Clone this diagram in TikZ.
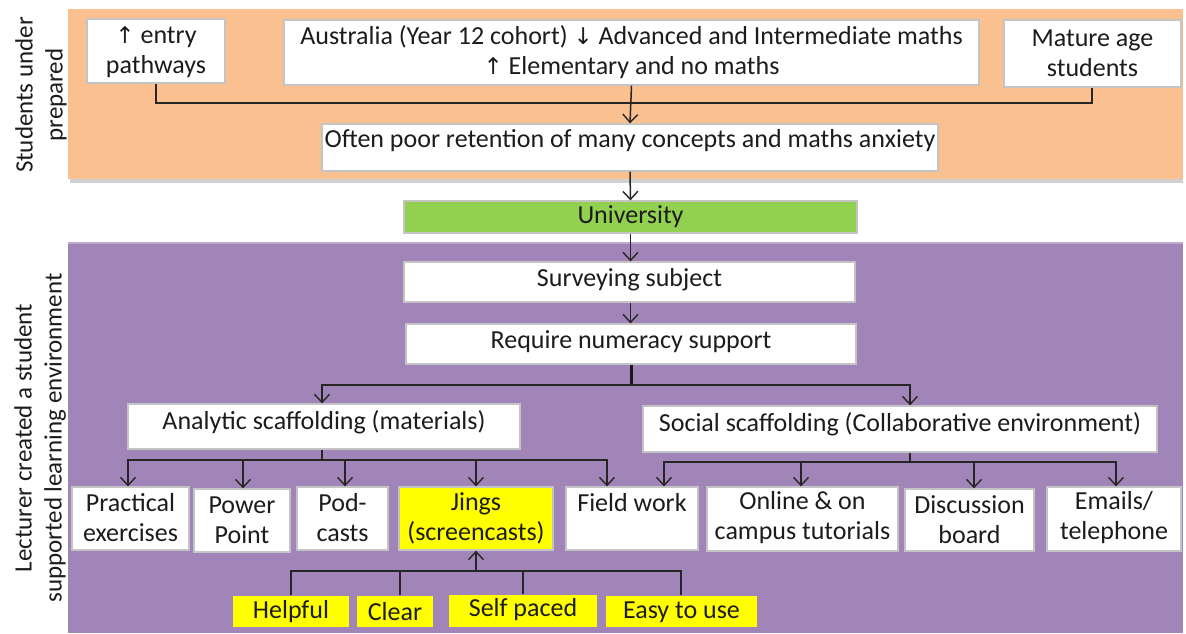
\documentclass[tikz,border=0pt]{standalone}
\usepackage{fontspec}
\setmainfont{Carlito}
\newfontfamily\symfont{DejaVu Sans}
\usetikzlibrary{arrows.meta}

\definecolor{panelorange}{RGB}{250,192,144}
\definecolor{panelpurple}{RGB}{162,133,184}
\definecolor{unigreen}{RGB}{146,208,80}
\definecolor{hiyellow}{RGB}{255,255,0}
\definecolor{boxedge}{RGB}{196,196,196}
\definecolor{ink}{RGB}{28,28,28}

\newcommand{\uparr}{{\symfont\fontsize{23}{30}\selectfont\char"2191}}
\newcommand{\downarr}{{\symfont\fontsize{23}{30}\selectfont\char"2193}}

% box: name, x1, y1, x2, y2, extra style, text, vertical centre of text
\newcommand{\bx}[8]{%
  \node[box,#6,minimum width={(#4-#2)*1pt},minimum height={(#5-#3)*1pt}]
    (#1) at ({(#2+#4)/2},{(#3+#5)/2}) {};
  \node[txt] (#1-t) at ({(#2+#4)/2},#8) {#7};
}

\tikzset{
  box/.style={draw=boxedge,line width=1.3pt,fill=white,inner sep=0pt},
  txt/.style={text=ink,font=\fontsize{26}{30}\selectfont,align=center,inner sep=0pt},
  side/.style={text=ink,font=\fontsize{25}{30}\selectfont,align=center,inner sep=0pt,rotate=90},
  wire/.style={draw=black!85,line width=1.5pt},
  thickwire/.style={draw=black!90,line width=3pt},
  arr/.style={wire,-{Straight Barb[length=8pt,width=15pt,line width=1.4pt]}},
}

\begin{document}
\begin{tikzpicture}[x=1pt,y=-1pt]
\useasboundingbox (0,0) rectangle (1186,633);
\fill[white] (0,0) rectangle (1186,633);

% background panels
\fill[black!18] (70,178) rectangle (1183,183);
\fill[panelorange] (68,9) rectangle (1183,179);
\fill[panelpurple] (68,242) rectangle (1183,633);
\draw[panelpurple!70!white,line width=1.5pt] (68,243) -- (1183,243);

% side titles
\node[side] (lab1) at (41,95) {Students under\\prepared};
\node[side] (lab2) at (40,438) {Lecturer created a student\\supported learning environment};

% top panel
\bx{entry}{87}{19}{225}{83}{}{\uparr\ entry\\pathways}{52}
\bx{aus}{284}{20}{979}{85}{}{Australia (Year 12 cohort) \downarr\ Advanced and Intermediate maths\\\uparr\ Elementary and no maths}{52}
\bx{mature}{1004}{20}{1181}{87}{}{Mature age\\students}{53}
\bx{often}{322}{124}{938}{171}{}{Often poor retention of many concepts and maths anxiety}{141}

\coordinate (j0) at (631,103);
\draw[wire] (entry.south -| 156,0) |- (j0) -| (mature.south -| 1092,0);
\draw[arr] (aus.south) -- (often.north);

% university
\bx{uni}{404}{201}{857}{233}{fill=unigreen}{University}{217}
\draw[arr] (often.south) -- (uni.north);

% lower panel
\bx{survey}{404}{262}{855}{302}{}{Surveying subject}{280}
\bx{require}{406}{324}{856}{364}{}{Require numeracy support}{342}
\draw[arr] (uni.south) -- (survey.north -| uni.south);
\draw[arr] (survey.south -| uni.south) -- (require.north -| uni.south);

\bx{analytic}{128}{404}{520}{449}{}{Analytic scaffolding (materials)}{422}
\bx{social}{643}{406}{1157}{452}{}{Social scaffolding (Collaborative environment)}{424}

\coordinate (j1) at (631,385);
\draw[thickwire] (require.south -| j1) -- (j1);
\draw[arr] (j1) -| (analytic.north -| 322,0);
\draw[arr] (j1) -| (social.north -| 910,0);

% materials
\bx{prac}{72}{487}{189}{550}{}{Practical\\exercises}{518}
\bx{power}{194}{489}{290}{552}{}{Power\\Point}{520}
\bx{pod}{297}{487}{388}{550}{}{Pod-\\casts}{518}
\bx{jings}{399}{487}{553}{550}{fill=hiyellow}{Jings\\(screencasts)}{518}
\bx{field}{566}{487}{698}{550}{}{Field work}{503}

\coordinate (j2) at (322,460);
\draw[wire] (analytic.south -| j2) -- (j2);
\draw[arr] (j2) -| (prac.north -| 128,0);
\draw[arr] (j2) -| (power.north -| 243,0);
\draw[arr] (j2) -| (pod.north -| 345,0);
\draw[arr] (j2) -| (jings.north -| 476,0);
\draw[arr] (j2) -| (field.north -| 607,0);

% collaborative environment
\bx{online}{707}{487}{898}{551}{}{Online \& on\\campus tutorials}{518}
\bx{discuss}{905}{489}{1034}{551}{}{Discussion\\board}{520}
\bx{emails}{1047}{487}{1181}{551}{}{Emails/\\telephone}{518}

\coordinate (j3) at (910,462);
\draw[wire] (social.south -| j3) -- (j3);
\draw[arr] (j3) -| (field.north -| 664,0);
\draw[arr] (j3) -| (online.north -| 801,0);
\draw[arr] (j3) -| (discuss.north -| 974,0);
\draw[arr] (j3) -| (emails.north -| 1116,0);

% qualities of the screencasts
\bx{helpful}{233}{596}{349}{627}{fill=hiyellow,draw=none}{Helpful}{612}
\bx{clear}{357}{596}{433}{627}{fill=hiyellow,draw=none}{Clear}{612}
\bx{selfpaced}{449}{595}{597}{627}{fill=hiyellow,draw=none}{Self paced}{610}
\bx{easy}{606}{596}{757}{627}{fill=hiyellow,draw=none}{Easy to use}{612}

\coordinate (j4) at (476,571);
\draw[wire] (helpful.north -| 291,0) |- (j4) -| (easy.north -| 681,0);
\draw[wire] (clear.north -| 400,0) -- (j4 -| 400,0);
\draw[wire] (selfpaced.north -| 523,0) -- (j4 -| 523,0);
\draw[arr] (j4) -- (jings.south);
\end{tikzpicture}
\end{document}
